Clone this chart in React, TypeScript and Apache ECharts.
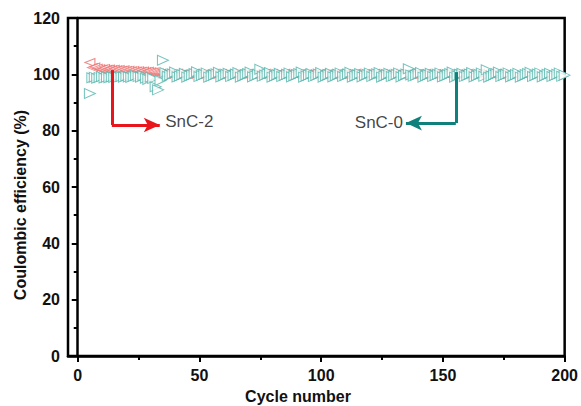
import React, { useEffect, useRef } from "react";
import * as echarts from "echarts";

const xMajorTicks = [0, 50, 100, 150, 200];
const xMinorTicks = [25, 75, 125, 175];
const firstCycle = 5;

const snc0 = [
  93.2,
  98.8, 99.0, 98.6, 98.9, 99.2, 98.7, 99.0, 98.8, 99.1,
  98.9, 99.3, 99.0, 99.2, 99.0, 99.4, 99.1, 98.9, 99.3,
  99.6, 99.2, 99.0, 99.5, 98.6, 98.2, 99.0, 98.5,
  95.6, 94.5, 97.8, 105.0, 100.6, 99.3, 99.7, 100.2, 100.8, 99.1,
  99.4, 99.9, 100.4, 99.0, 99.5, 99.8, 100.3, 100.9, 99.2, 99.6,
  100.0, 100.5, 99.0, 99.3, 99.8, 100.2, 100.7, 99.1, 99.5, 100.0,
  100.4, 99.2, 99.6, 100.1, 100.6, 99.0, 99.4, 99.9, 100.3, 100.8,
  99.1, 99.5, 100.0, 101.8, 99.3, 99.7, 100.2, 100.6, 99.0, 99.4,
  99.9, 100.4, 99.2, 99.6, 100.0, 100.5, 99.1, 99.5, 99.9, 100.3,
  100.8, 99.0, 99.4, 99.8, 100.3, 99.2, 99.6, 100.1, 100.6, 99.0,
  99.5, 99.9, 100.4, 99.1, 99.5, 100.0, 100.5, 99.2, 99.6, 100.1,
  100.7, 99.0, 99.4, 99.8, 100.3, 99.1, 99.6, 100.0, 100.5, 99.2,
  99.7, 100.2, 100.6, 99.0, 99.4, 99.9, 100.4, 99.2, 99.5, 100.0,
  100.5, 99.1, 99.6, 100.1, 102.0, 99.8, 99.3, 99.7, 100.2, 100.6,
  99.0, 99.5, 99.9, 100.4, 99.2, 99.6, 100.0, 100.5, 99.1, 99.4,
  99.9, 100.3, 100.8, 99.0, 99.5, 100.0, 100.4, 99.2, 99.6, 100.1,
  100.6, 99.1, 99.5, 100.0, 100.5, 99.3, 101.6, 99.0, 99.4, 99.9,
  100.3, 100.8, 99.2, 99.6, 100.0, 100.5, 99.1, 99.5, 99.9, 100.4,
  99.0, 99.4, 99.9, 100.3, 100.7, 99.2, 99.6, 100.1, 100.5, 99.1,
  99.5, 100.0, 100.4, 99.2, 99.6, 100.0, 100.5, 99.3, 99.7,
];

const snc2 = [
  104.2, 102.4, 102.6, 102.2, 102.0, 101.9, 102.1, 101.8, 101.9, 101.7,
  101.8, 101.6, 101.7, 101.5, 101.6, 101.4, 101.5, 101.3, 101.4, 101.2,
  101.3, 101.1, 101.2, 101.0, 101.1, 100.9, 100.8, 100.6, 100.5, 100.4,
  100.2, 100.0, 100.3, 100.1, 99.9, 100.2, 100.4, 100.0, 100.1, 100.3,
  99.9, 100.2, 100.1, 100.4, 100.0, 100.2, 99.9, 100.3, 100.1, 100.0,
  100.2, 100.4, 100.1, 99.9, 100.3, 100.0, 100.2, 100.1, 100.4, 99.9,
  100.1, 100.3, 100.0, 100.2, 99.9, 100.4, 100.1, 100.0, 100.3, 100.2,
  99.9, 100.1, 100.4, 100.0, 100.2, 100.3, 99.9, 100.1, 100.2, 100.0,
  100.4, 100.1, 99.9, 100.3, 100.0, 100.2, 100.1, 100.4, 99.9, 100.2,
  100.0, 100.3, 100.1, 99.9, 100.2, 100.4, 100.0, 100.1, 100.3, 99.9,
  100.2, 100.1, 100.4, 100.0, 99.9, 100.3, 100.2, 100.1, 100.0, 100.4,
  99.9, 100.2, 100.1, 100.3, 100.0, 100.2, 99.9, 100.4, 100.1, 100.0,
  100.3, 100.1, 99.9, 100.2, 100.4, 100.0, 100.1, 100.3, 99.9, 100.2,
  100.1, 100.4, 100.0, 99.9, 100.2, 100.3, 100.1, 100.0, 100.4, 99.9,
  100.2, 100.0, 100.3, 100.1, 99.9, 100.4, 100.2, 100.0, 100.1, 100.3,
  99.9, 100.2, 100.1, 100.4, 100.0, 100.3, 99.9, 100.1, 100.2, 100.0,
  100.4, 100.1, 99.9, 100.2, 100.3, 100.0, 100.1, 100.4, 99.9, 100.2,
];

// annotation anchors in data coordinates
const snc2Arrow = [[14.0, 101.5], [14.0, 82.0], [33.7, 82.0]];
const snc2Label = [35.7, 83.4];
const snc0Arrow = [[155.3, 100.8], [155.3, 82.7], [134.8, 82.7]];
const snc0Label = [133.8, 83.0];

const FONT = "'Liberation Sans', Arial, sans-serif";
const RED = "#e8161c";
const TEAL_ARROW = "#10807c";
const TEAL = "#55b5ad";
const PINK = "#ee6a6a";

export default function App() {
  const ref = useRef<HTMLDivElement>(null);
  useEffect(() => {
    document.body.style.margin = "0";
    const chart = echarts.init(ref.current!, null, { renderer: "svg" });
    const segs = (pts: number[][]) => [
      [
        { coord: pts[0], symbol: "none" },
        { coord: pts[1], symbol: "none" },
      ],
      [
        { coord: pts[1], symbol: "none" },
        { coord: pts[2], symbol: "arrow", symbolSize: [11, 16] },
      ],
    ];
    const nameStyle = { fontFamily: FONT, fontWeight: "bold", fontSize: 16, fill: "#111" };
    chart.setOption({
      animation: false,
      backgroundColor: "#fff",
      grid: {
        left: 68,
        right: 15,
        top: 18,
        bottom: 50,
        show: true,
        borderColor: "#000",
        borderWidth: 2.5,
      },
      graphic: [
        {
          type: "text",
          x: 298,
          y: 396,
          style: { ...nameStyle, text: "Cycle number", align: "center", verticalAlign: "middle" },
        },
        {
          type: "text",
          x: 20,
          y: 205,
          rotation: Math.PI / 2,
          style: { ...nameStyle, text: "Coulombic efficiency (%)", align: "center", verticalAlign: "middle" },
        },
      ],
      xAxis: [
        {
          type: "value",
          min: -4,
          max: 200,
          axisLine: { show: true, lineStyle: { color: "#000", width: 2.5 } },
          axisTick: { show: true, length: 6, lineStyle: { color: "#000", width: 2 }, customValues: xMajorTicks },
          axisLabel: {
            customValues: xMajorTicks,
            margin: 11,
            fontFamily: FONT,
            fontWeight: "bold",
            fontSize: 16,
            color: "#111",
          },
          splitLine: { show: false },
        },
        {
          type: "value",
          min: -4,
          max: 200,
          position: "bottom",
          axisLine: { show: false },
          axisTick: { show: true, length: 4, lineStyle: { color: "#000", width: 2 }, customValues: xMinorTicks },
          axisLabel: { show: false },
          splitLine: { show: false },
        },
      ],
      yAxis: {
        type: "value",
        min: 0,
        max: 120,
        interval: 20,
        axisLine: { show: true, lineStyle: { color: "#000", width: 2.5 } },
        axisTick: { show: true, length: 6, lineStyle: { color: "#000", width: 2 } },
        minorTick: { show: true, splitNumber: 2, length: 4, lineStyle: { color: "#000", width: 2 } },
        axisLabel: { margin: 8, fontFamily: FONT, fontWeight: "bold", fontSize: 16, color: "#111" },
        splitLine: { show: false },
      },
      series: [
        {
          type: "scatter",
          data: snc2.map((v, i) => [i + firstCycle, v]),
          symbol: "triangle",
          symbolSize: [8, 10],
          symbolRotate: 90,
          itemStyle: { color: "#fff", borderColor: PINK, borderWidth: 1 },
        },
        {
          type: "scatter",
          data: snc0.map((v, i) => [i + firstCycle, v]),
          symbol: "triangle",
          symbolSize: [10, 11],
          symbolRotate: -90,
          itemStyle: { color: "#fff", borderColor: TEAL, borderWidth: 1 },
        },
        {
          type: "scatter",
          data: [snc2Label],
          symbolSize: 1,
          itemStyle: { color: "rgba(0,0,0,0)" },
          label: {
            show: true,
            position: "right",
            distance: 0,
            formatter: "SnC-2",
            fontFamily: FONT,
            fontSize: 17,
            color: "#111",
          },
          markLine: {
            silent: true,
            symbol: ["none", "none"],
            label: { show: false },
            lineStyle: { color: RED, width: 3, type: "solid" },
            data: segs(snc2Arrow),
          },
        },
        {
          type: "scatter",
          data: [snc0Label],
          symbolSize: 1,
          itemStyle: { color: "rgba(0,0,0,0)" },
          label: {
            show: true,
            position: "left",
            distance: 0,
            formatter: "SnC-0",
            fontFamily: FONT,
            fontSize: 17,
            color: "#111",
          },
          markLine: {
            silent: true,
            symbol: ["none", "none"],
            label: { show: false },
            lineStyle: { color: TEAL_ARROW, width: 3, type: "solid" },
            data: segs(snc0Arrow),
          },
        },
      ],
    });
    return () => chart.dispose();
  }, []);
  return <div ref={ref} style={{ width: 581, height: 406 }} />;
}
